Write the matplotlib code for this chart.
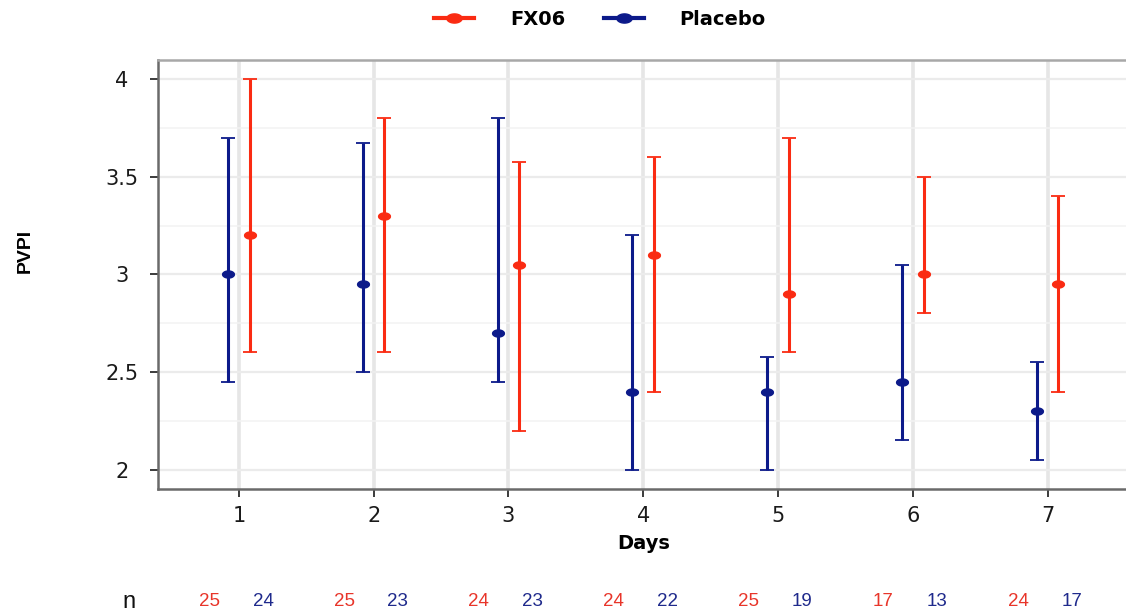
import matplotlib
matplotlib.use("Agg")
import matplotlib.pyplot as plt
import matplotlib.transforms as mtransforms
from matplotlib.lines import Line2D
import numpy as np

days = [1, 2, 3, 4, 5, 6, 7]

fx06_mean = [3.2, 3.3, 3.05, 3.1, 2.9, 3.0, 2.95]
fx06_low = [2.6, 2.6, 2.2, 2.4, 2.6, 2.8, 2.4]
fx06_high = [4.0, 3.8, 3.575, 3.6, 3.7, 3.5, 3.4]

placebo_mean = [3.0, 2.95, 2.7, 2.4, 2.4, 2.45, 2.3]
placebo_low = [2.45, 2.5, 2.45, 2.0, 2.0, 2.15, 2.05]
placebo_high = [3.7, 3.675, 3.8, 3.2, 2.575, 3.05, 2.55]

n_fx06 = [25, 25, 24, 24, 25, 17, 24]
n_placebo = [24, 23, 23, 22, 19, 13, 17]

red = "#fa2b12"
blue = "#0c1a8a"

plt.rcParams["font.family"] = ["Liberation Sans", "DejaVu Sans"]

# flattened dot like the original
t = np.linspace(0, 2 * np.pi, 40)
ellipse = list(zip(np.cos(t), 0.6 * np.sin(t)))

fig = plt.figure(figsize=(11.26, 6.16), dpi=100)
ax = fig.add_axes([0.1403, 0.206, 0.862, 0.697])

x = np.array(days, dtype=float)
off = 0.08


def draw(xs, mean, low, high, color):
    mean = np.array(mean)
    err = [mean - np.array(low), np.array(high) - mean]
    ax.errorbar(xs, mean, yerr=err, fmt="none", ecolor=color,
                elinewidth=2.2, capsize=5, capthick=1.3, zorder=3)
    ax.plot(xs, mean, linestyle="none", marker=ellipse, markersize=8.5,
            color=color, zorder=4)


draw(x - off, placebo_mean, placebo_low, placebo_high, blue)
draw(x + off, fx06_mean, fx06_low, fx06_high, red)

ax.set_xlim(0.4, 7.6)
ax.set_ylim(1.9, 4.1)
ax.set_xticks(days)
ax.set_yticks([2, 2.5, 3, 3.5, 4])
ax.set_yticklabels(["2", "2.5", "3", "3.5", "4"])
ax.set_yticks(np.arange(2.25, 4.0, 0.5), minor=True)
ax.tick_params(axis="both", labelsize=15, colors="#1a1a1a", length=6,
               width=1.2, direction="out", pad=6)
ax.tick_params(axis="y", which="minor", length=0)
ax.tick_params(axis="y", pad=20)
for lab in ax.get_xticklabels() + ax.get_yticklabels():
    lab.set_family("DejaVu Sans")
for lab in ax.get_yticklabels():
    lab.set_horizontalalignment("center")

ax.grid(True, which="major", axis="y", color="#ebebeb", linewidth=1.6, zorder=0)
ax.grid(True, which="minor", axis="y", color="#f3f3f3", linewidth=1.1, zorder=0)
ax.grid(True, which="major", axis="x", color="#e6e6e6", linewidth=2.6, zorder=0)
ax.set_axisbelow(True)

for s in ["top", "right"]:
    ax.spines[s].set_color("#a8a8a8")
    ax.spines[s].set_linewidth(1.8)
for s in ["left", "bottom"]:
    ax.spines[s].set_color("#6a6a6a")
    ax.spines[s].set_linewidth(1.8)

ax.set_xlabel("Days", fontsize=14, fontweight="bold", family="DejaVu Sans",
              labelpad=6)
ax.set_ylabel("PVPI", fontsize=14, fontweight="bold")
ax.yaxis.set_label_coords(-0.128, 0.555)

handles = [
    Line2D([], [], color=red, linewidth=3, marker=ellipse, markersize=11),
    Line2D([], [], color=blue, linewidth=3, marker=ellipse, markersize=11),
]
fig.legend(handles, ["FX06", "Placebo"], loc="upper center",
           bbox_to_anchor=(0.533, 1.012), ncol=2, frameon=False,
           prop={"weight": "bold", "size": 14, "family": "DejaVu Sans"},
           handlelength=2.06, columnspacing=1.95, handletextpad=1.85)

# sample sizes below the axis
trans = mtransforms.blended_transform_factory(ax.transData, fig.transFigure)
fig.text(0.115, 0.022, "n", fontsize=17, ha="center", va="center",
         color="#111111")
for d, a, b in zip(days, n_fx06, n_placebo):
    fig.text(d - 0.22, 0.024, str(a), transform=trans, fontsize=13.5,
             color="#e8352a", ha="center", va="center")
    fig.text(d + 0.18, 0.024, str(b), transform=trans, fontsize=13.5,
             color="#1f2a8c", ha="center", va="center")

fig.savefig("out.png", dpi=100)
